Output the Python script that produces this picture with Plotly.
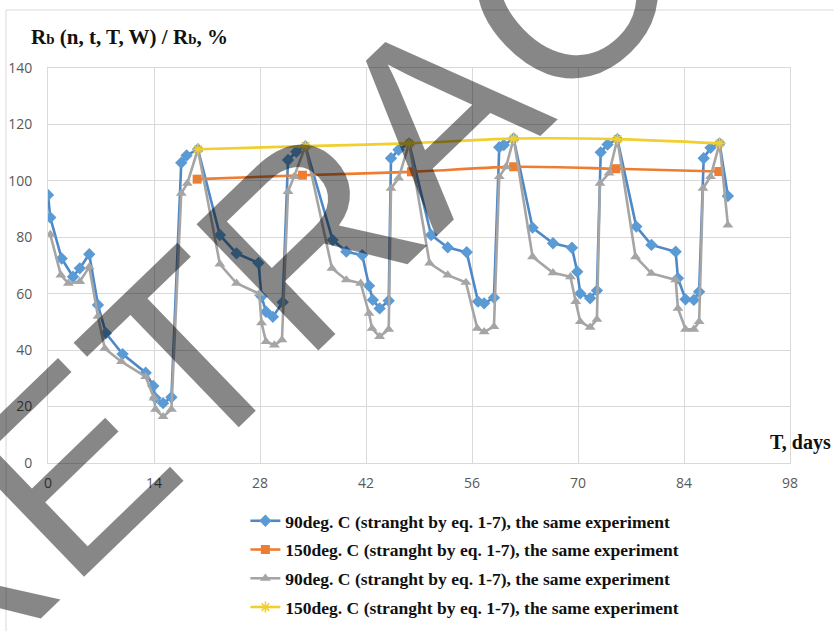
import plotly.graph_objects as go

# ---- data -------------------------------------------------------------
days_90a = [0.0, 0.3, 1.8, 3.3, 4.2, 5.45, 6.6, 7.65, 9.85, 12.9, 13.9, 14.2, 15.2, 16.3,
            17.6, 18.3, 19.8, 22.7, 24.9, 27.8, 28.2, 28.8, 29.7, 31.0, 31.7, 32.8, 34.0,
            37.6, 39.4, 41.5, 42.4, 42.9, 43.8, 45.0, 45.3, 46.3, 47.7,
            50.6, 52.8, 55.3, 56.8, 57.6, 58.9, 59.6, 60.2, 61.5,
            64.0, 66.7, 69.2, 69.9, 70.3, 71.6, 72.5, 73.0, 73.9, 75.2,
            77.7, 79.7, 82.9, 83.2, 84.2, 85.3, 86.0, 86.6, 87.5, 88.7, 89.8]
vals_90a = [95, 87, 72.5, 66, 69, 74, 56, 46, 38.6, 32, 27.3, 23, 21.2, 23.3,
            106.4, 109, 111.2, 80.8, 74.3, 70.9, 59, 53.6, 51.8, 57, 107.4, 110.3, 112.3,
            79, 74.9, 73.7, 62.8, 57.8, 54.8, 57.5, 108, 111, 113.3,
            80.8, 76.4, 74.7, 57.2, 56.6, 58.6, 111.9, 112.7, 115,
            83.4, 77.9, 76.3, 67.8, 60.1, 58.4, 61.1, 110.1, 112.9, 114.8,
            83.8, 77.3, 74.9, 65.5, 58, 57.8, 60.7, 108, 111.7, 113.3, 94.6]

days_90b = [0.3, 1.7, 2.7, 4.2, 5.45, 6.6, 7.5, 9.7, 12.9, 14.0, 14.2, 15.2, 16.3,
            17.6, 18.4, 19.8, 22.7, 24.9, 27.9, 28.2, 28.8, 29.9, 30.9, 31.7, 32.5, 34.0,
            37.5, 39.4, 41.3, 42.4, 42.8, 43.8, 45.0, 45.3, 46.3, 47.7,
            50.4, 52.8, 55.2, 56.7, 57.6, 58.9, 59.6, 60.5, 61.5,
            64.0, 66.7, 69.0, 69.7, 70.3, 71.6, 72.5, 72.9, 74.1, 75.2,
            77.6, 79.7, 82.9, 83.2, 84.2, 85.3, 86.0, 86.5, 87.5, 88.7, 89.8]
vals_90b = [81, 66.6, 63.7, 64.3, 69.5, 52, 40.6, 35.9, 30.6, 23, 19, 16.4, 19,
            95.6, 99.1, 111.2, 70.5, 63.7, 60, 49.7, 43, 41.8, 43.6, 96.2, 101.5, 112.3,
            69, 64.9, 63.7, 53, 47.7, 44.8, 47.4, 97.3, 101, 113.3,
            70.8, 66.6, 64, 47.7, 46.5, 48.3, 101.5, 105, 115,
            73.1, 67.4, 66, 57.2, 50.1, 48.1, 50.9, 99.1, 102.7, 114.8,
            73.1, 67.2, 64.9, 54.8, 47.4, 47.4, 50.1, 97.3, 101.5, 113.3, 84.3]

days_150a = [19.7, 33.6, 48.0, 61.5, 75.0, 88.6]
vals_150a = [100.6, 102, 103.2, 105, 104.3, 103.3]

days_150b = [19.8, 34.0, 47.7, 61.5, 75.2, 88.7]
vals_150b = [111.2, 112.3, 113.3, 115, 114.8, 113.3]

names = [
    "90deg. C (stranght by eq. 1-7), the same experiment",
    "150deg. C (stranght by eq. 1-7), the same experiment",
    "90deg. C (stranght by eq. 1-7), the same experiment",
    "150deg. C (stranght by eq. 1-7), the same experiment",
]
x_ticks = [0, 14, 28, 42, 56, 70, 84, 98]
y_ticks = [0, 20, 40, 60, 80, 100, 120, 140]

BLUE, ORANGE, GRAY, YELLOW = "#5B9BD5", "#ED7D31", "#A5A5A5", "#F0CF2E"
GRID = "#D9D9D9"
SERIF = "Liberation Serif, Times New Roman, serif"

# ---- figure -----------------------------------------------------------
fig = go.Figure()
fig.add_trace(go.Scatter(
    x=days_90a, y=vals_90a, name=names[0], mode="lines+markers", legendgroup="a",
    line=dict(color="#4F88C6", width=2.6),
    marker=dict(symbol="diamond", size=9.5, color=BLUE),
))
fig.add_trace(go.Scatter(
    x=days_150a, y=vals_150a, name=names[1], mode="lines+markers", legendgroup="b",
    line=dict(color=ORANGE, width=2.6, shape="spline", smoothing=0.8),
    marker=dict(symbol="square", size=9, color=ORANGE),
))
fig.add_trace(go.Scatter(
    x=days_90b, y=vals_90b, name=names[2], mode="lines+markers", legendgroup="c",
    line=dict(color=GRAY, width=2.6),
    marker=dict(symbol="triangle-up", size=9.5, color=GRAY),
))
fig.add_trace(go.Scatter(
    x=days_150b, y=vals_150b, name=names[3], mode="lines+markers", legendgroup="d",
    line=dict(color=YELLOW, width=2.6, shape="spline", smoothing=0.8),
    marker=dict(symbol="asterisk", size=9, color=YELLOW, line=dict(color=YELLOW, width=1.5)),
))

axis_common = dict(
    showgrid=True, gridcolor=GRID, gridwidth=1,
    showline=True, linecolor=GRID, linewidth=1, mirror=True,
    zeroline=False, ticks="",
    tickfont=dict(family="Open Sans, sans-serif", size=14, color="#595959"),
)
fig.update_xaxes(range=[0, 98], tickvals=x_ticks, ticklabelstandoff=7, **axis_common)
fig.update_yaxes(range=[0, 140], tickvals=y_ticks, ticklabelstandoff=12, **axis_common)

fig.update_layout(
    width=834, height=631,
    margin=dict(l=48, r=44, t=68, b=168, autoexpand=False),
    paper_bgcolor="white", plot_bgcolor="white",
    showlegend=True,
    legend=dict(
        x=0.266, y=-0.101, xanchor="left", yanchor="top",
        font=dict(family=SERIF, size=17.5, color="#111111", weight="bold"),
        tracegroupgap=3, traceorder="grouped",
        bgcolor="rgba(0,0,0,0)",
    ),
    annotations=[
        dict(text="<b>R<span style='font-size:15px'>b</span> (n, t, T, W) / R<span style='font-size:15px'>b</span>, %</b>",
             xref="paper", yref="paper", x=-0.0256, y=1.078, xanchor="left", yanchor="middle",
             showarrow=False, font=dict(family=SERIF, size=21, color="#111111")),
        dict(text="<b>T, days</b>", xref="paper", yref="paper", x=0.97, y=0.052,
             xanchor="left", yanchor="middle", showarrow=False,
             font=dict(family=SERIF, size=20, color="#111111")),
        dict(text="RETRACTED", xref="paper", yref="paper", x=0.5216, y=0.8835,
             xanchor="center", yanchor="middle", showarrow=False, textangle=-44,
             font=dict(family="Liberation Sans, Arial, sans-serif", size=255,
                       color="rgba(0,0,0,0.47)")),
    ],
    shapes=[
        dict(type="rect", xref="paper", yref="paper",
             x0=-0.0566, x1=1.2, y0=-0.6, y1=1.1468,
             line=dict(color=GRID, width=1), fillcolor="rgba(0,0,0,0)", layer="below"),
    ],
)

fig.write_html("out.html")
